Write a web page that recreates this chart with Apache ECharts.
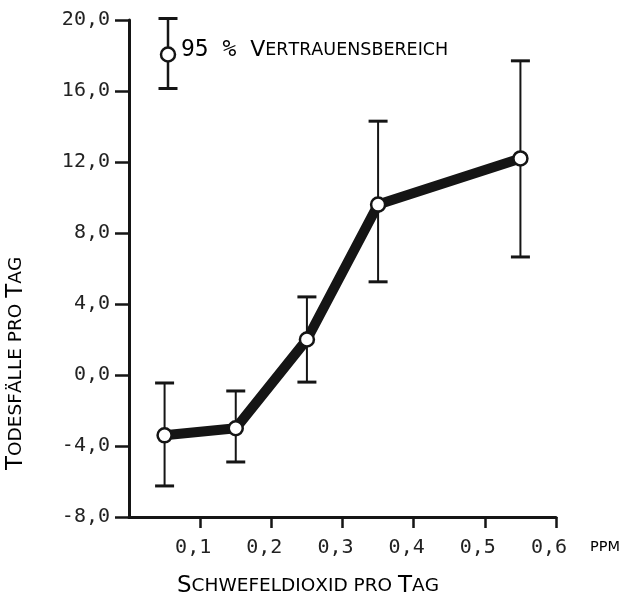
<!DOCTYPE html>
<html>
<head>
<meta charset="utf-8">
<script src="https://cdn.jsdelivr.net/npm/echarts@6/dist/echarts.min.js"></script>
<style>
  html, body { margin: 0; padding: 0; background: #fff; }
  #chart { width: 633px; height: 602px; }
</style>
</head>
<body>
<div id="chart"></div>
<script>
// Werte
const doses = [0.05, 0.15, 0.25, 0.35, 0.55]
const deaths = [-3.4, -3.0, 2.0, 9.6, 12.2]
const ciLow = [-6.25, -4.9, -0.4, 5.25, 6.65]
const ciHigh = [-0.45, -0.9, 4.4, 14.3, 17.7]
const xTicks = [0.1, 0.2, 0.3, 0.4, 0.5, 0.6]

const ink = '#151515'
const mono = 'DejaVu Sans Mono'
const sans = 'DejaVu Sans'

// Kapitälchen: Großbuchstaben groß, Rest klein in Versalien
function smallCaps(str) {
  let out = ''
  for (const ch of str) {
    const tag = (ch !== ch.toLowerCase()) ? 'b' : 's'
    out += '{' + tag + '|' + ch.toUpperCase() + '}'
  }
  return out
}
const capsRich = (big, small) => ({
  b: { fontFamily: sans, fontSize: big, color: ink },
  s: { fontFamily: sans, fontSize: small, color: ink }
})

const chart = echarts.init(document.getElementById('chart'))

let option = {
  animation: false,
  backgroundColor: '#fff',
  grid: {
    left: 129,
    right: 77,
    top: 20,
    bottom: 85,
    outerBoundsMode: 'none'
  },
  xAxis: {
    type: 'value',
    min: 0,
    max: 0.6,
    interval: 0.1,
    splitLine: { show: false },
    axisLine: { show: true, onZero: false, lineStyle: { color: ink, width: 3 } },
    axisTick: { show: true, customValues: xTicks, length: 11, lineStyle: { color: ink, width: 2.5 } },
    axisLabel: {
      customValues: xTicks,
      margin: 21,
      fontFamily: mono,
      fontSize: 20,
      color: '#222',
      padding: [0, 14, 0, 0],
      formatter: v => v.toFixed(1).replace('.', ',')
    }
  },
  yAxis: {
    type: 'value',
    min: -8,
    max: 20,
    interval: 4,
    splitLine: { show: false },
    axisLine: { show: true, lineStyle: { color: ink, width: 3 } },
    axisTick: { show: true, length: 14, lineStyle: { color: ink, width: 2.5 } },
    axisLabel: {
      margin: 19,
      fontFamily: mono,
      fontSize: 20,
      color: '#222',
      formatter: v => v.toFixed(1).replace('.', ',')
    }
  },
  graphic: [
    // Legende: 95 % Vertrauensbereich
    {
      type: 'group',
      left: 156,
      top: 16,
      children: [
        { type: 'line', shape: { x1: 9.5, y1: 1, x2: 9.5, y2: 71 }, style: { stroke: ink, lineWidth: 2.5 } },
        { type: 'line', shape: { x1: 0, y1: 1, x2: 19, y2: 1 }, style: { stroke: ink, lineWidth: 3 } },
        { type: 'line', shape: { x1: 0, y1: 71, x2: 19, y2: 71 }, style: { stroke: ink, lineWidth: 3 } },
        { type: 'circle', shape: { cx: 9.5, cy: 37, r: 7 }, style: { fill: '#fff', stroke: ink, lineWidth: 2.5 } }
      ]
    },
    {
      type: 'text',
      left: 181,
      top: 39,
      style: {
        text: '{n|95 % }' + smallCaps('Vertrauensbereich'),
        rich: Object.assign({ n: { fontFamily: mono, fontSize: 23, color: ink } }, capsRich(22, 17.5))
      }
    },
    // x-Achsentitel
    {
      type: 'text',
      left: 177,
      top: 575,
      style: { text: smallCaps('Schwefeldioxid pro Tag'), rich: capsRich(23, 18.5) }
    },
    {
      type: 'text',
      left: 590,
      top: 540,
      style: { text: 'PPM', fontFamily: sans, fontSize: 14.5, color: ink }
    },
    // y-Achsentitel
    {
      type: 'text',
      x: 5,
      y: 470,
      rotation: Math.PI / 2,
      style: { text: smallCaps('Todesfälle pro Tag'), rich: capsRich(23, 18.5) }
    }
  ],
  series: [
    {
      type: 'custom',
      name: 'Vertrauensbereich',
      z: 2,
      renderItem: (params, api) => {
        const x = api.value(0)
        const top = api.coord([x, api.value(2)])
        const bot = api.coord([x, api.value(1)])
        const hw = 9.5
        return {
          type: 'group',
          children: [
            { type: 'line', shape: { x1: top[0], y1: top[1], x2: bot[0], y2: bot[1] }, style: { stroke: ink, lineWidth: 2 } },
            { type: 'line', shape: { x1: top[0] - hw, y1: top[1], x2: top[0] + hw, y2: top[1] }, style: { stroke: ink, lineWidth: 3 } },
            { type: 'line', shape: { x1: bot[0] - hw, y1: bot[1], x2: bot[0] + hw, y2: bot[1] }, style: { stroke: ink, lineWidth: 3 } }
          ]
        }
      },
      encode: { x: 0, y: [1, 2] },
      data: doses.map((d, i) => [d, ciLow[i], ciHigh[i]])
    },
    {
      type: 'line',
      name: 'Todesfälle',
      z: 3,
      data: doses.map((d, i) => [d, deaths[i]]),
      lineStyle: { color: ink, width: 10 },
      symbol: 'circle',
      symbolSize: 14,
      itemStyle: { color: '#fff', borderColor: ink, borderWidth: 2.5 }
    }
  ]
}
chart.setOption(option)
</script>
</body>
</html>
